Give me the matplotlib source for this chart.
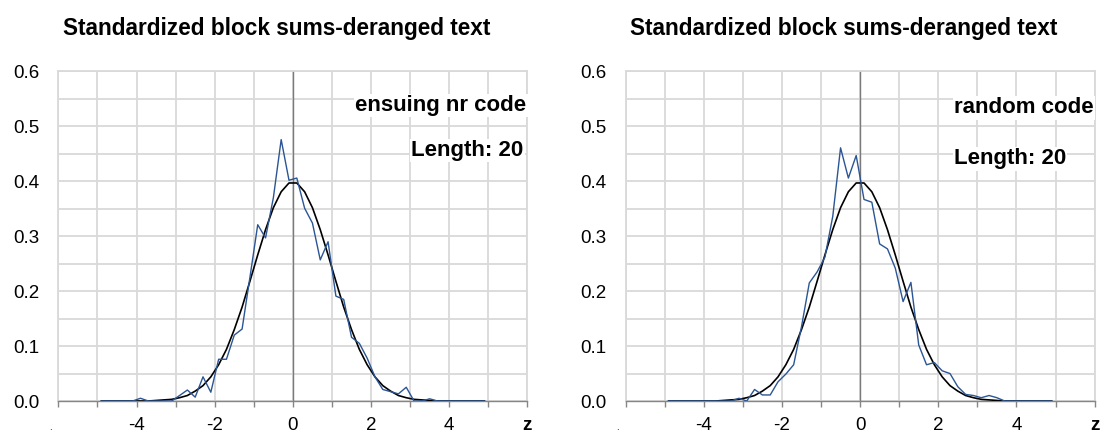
import numpy as np
import matplotlib
matplotlib.use('Agg')
import matplotlib.pyplot as plt

plt.rcParams['font.family'] = ['Liberation Sans', 'DejaVu Sans']

# z values of the block sums (step 0.2)
z = [-4.9, -4.7, -4.5, -4.3, -4.1, -3.9, -3.7, -3.5, -3.3, -3.1,
     -2.9, -2.7, -2.5, -2.3, -2.1, -1.9, -1.7, -1.5, -1.3, -1.1,
     -0.9, -0.7, -0.5, -0.3, -0.1, 0.1, 0.3, 0.5, 0.7, 0.9,
     1.1, 1.3, 1.5, 1.7, 1.9, 2.1, 2.3, 2.5, 2.7, 2.9,
     3.1, 3.3, 3.5, 3.7, 3.9, 4.1, 4.3, 4.5, 4.7, 4.9]

# standard normal reference curve
normal = [0.000, 0.000, 0.000, 0.000, 0.000, 0.000, 0.000, 0.001, 0.002, 0.003,
          0.006, 0.010, 0.018, 0.028, 0.044, 0.066, 0.094, 0.130, 0.171, 0.218,
          0.266, 0.312, 0.352, 0.381, 0.397, 0.397, 0.381, 0.352, 0.312, 0.266,
          0.218, 0.171, 0.130, 0.094, 0.066, 0.044, 0.028, 0.018, 0.010, 0.006,
          0.003, 0.002, 0.001, 0.000, 0.000, 0.000, 0.000, 0.000, 0.000, 0.000]

# ensuing nr code
ensuing = [0, 0, 0, 0, 0, 0.005, 0, 0, 0, 0,
           0.010, 0.020, 0.007, 0.044, 0.016, 0.076, 0.076, 0.120, 0.131, 0.225,
           0.321, 0.297, 0.370, 0.476, 0.402, 0.406, 0.351, 0.324, 0.257, 0.290,
           0.191, 0.185, 0.116, 0.105, 0.078, 0.044, 0.021, 0.017, 0.013, 0.025,
           0, 0, 0.004, 0, 0, 0, 0, 0, 0, 0]

# random code
rand = [0, 0, 0, 0, 0, 0, 0, 0, 0, 0.005,
        0, 0.021, 0.011, 0.011, 0.035, 0.049, 0.066, 0.135, 0.215, 0.235,
        0.262, 0.336, 0.461, 0.406, 0.447, 0.367, 0.362, 0.286, 0.277, 0.242,
        0.181, 0.216, 0.102, 0.066, 0.070, 0.055, 0.050, 0.026, 0.012, 0.010,
        0.006, 0.010, 0.006, 0, 0, 0, 0, 0, 0, 0]

title = 'Standardized block sums-deranged text'
xtick_vals = [-4, -2, 0, 2, 4, 6]
xtick_labels = ['-4', '-2', '0', '2', '4', 'z']
ytick_vals = [0.0, 0.1, 0.2, 0.3, 0.4, 0.5, 0.6]

fig = plt.figure(figsize=(11.04, 4.32), dpi=100)
W, H = 1104, 432


def panel(left_px, series, label1, label2, pos, align):
    ax = fig.add_axes([left_px / W, 31 / H, 469 / W, 329.5 / H])
    ax.set_xlim(-6, 6)
    ax.set_ylim(0, 0.6)
    ax.set_xticks(xtick_vals)
    ax.set_xticklabels(xtick_labels)
    ax.set_xticks(np.arange(-6, 7, 1), minor=True)
    ax.set_yticks(ytick_vals)
    ax.set_yticklabels(['%.1f' % v for v in ytick_vals])
    ax.set_yticks(np.arange(0, 0.61, 0.05), minor=True)
    ax.grid(which='both', color='#d9d9d9', lw=1.3)
    ax.set_axisbelow(True)
    for s in ['top', 'right', 'left']:
        ax.spines[s].set_color('#d9d9d9')
        ax.spines[s].set_linewidth(1.3)
    ax.spines['bottom'].set_color('#868686')
    ax.spines['bottom'].set_linewidth(1.0)
    ax.tick_params(axis='x', which='both', direction='out', length=4,
                   color='#868686', width=1.0, pad=7.5, labelsize=13.5)
    ax.tick_params(axis='y', which='both', length=0, pad=13.5, labelsize=13.5)
    ax.get_xticklabels()[-1].set_fontweight('bold')
    # stray dot left of the axis, as in the source chart
    ax.text(-6.2, -0.048, '.', ha='center', va='center', fontsize=7)
    ax.axvline(0, color='#7a7a7a', lw=1.0, zorder=2)
    ax.plot(z, normal, color='black', lw=1.2, zorder=3)
    ax.plot(z, series, color='#2b5594', lw=1.0, zorder=4)
    box = dict(facecolor='white', edgecolor='none', pad=1)
    ax.text(pos[0][0], pos[0][1], label1, ha=align, va='center', fontsize=16,
            fontweight='bold', bbox=box, zorder=5)
    ax.text(pos[1][0], pos[1][1], label2, ha=align, va='center', fontsize=16,
            fontweight='bold', bbox=box, zorder=5)
    return ax


panel(58.4, ensuing, 'ensuing nr code', 'Length: 20',
      [(5.97, 0.538), (5.9, 0.456)], 'right')
panel(625.6, rand, 'random code', 'Length: 20',
      [(2.4, 0.534), (2.4, 0.441)], 'left')

fig.text(277 / W, 1 - 28 / H, title, ha='center', va='center', fontsize=16.3,
         fontweight='bold')
fig.text(844 / W, 1 - 28 / H, title, ha='center', va='center', fontsize=16.3,
         fontweight='bold')

fig.savefig('out.png', dpi=100)
